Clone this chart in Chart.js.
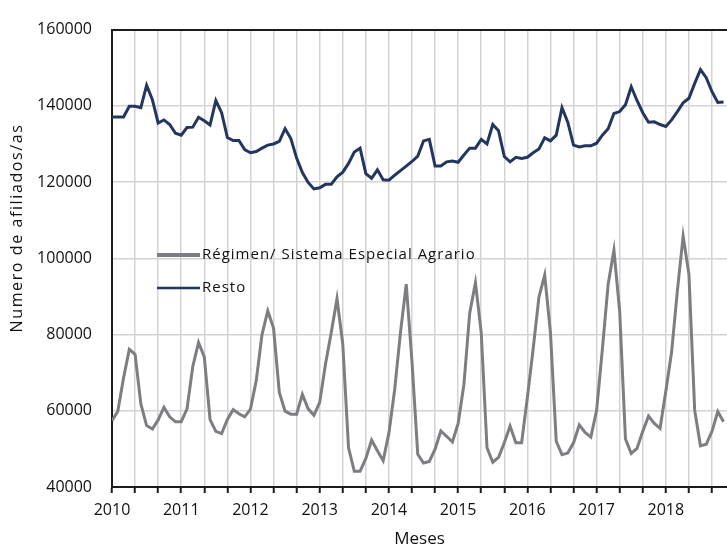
<!DOCTYPE html>
<html>
<head>
<meta charset="utf-8">
<script src="https://cdn.jsdelivr.net/npm/chart.js@4.4.1/dist/chart.umd.min.js"></script>
<style>
  html, body { margin: 0; padding: 0; background: #ffffff; }
  #wrap { width: 727px; height: 549px; position: relative; }
</style>
</head>
<body>
<div id="wrap"><canvas id="c" width="727" height="549"></canvas></div>
<script>
// Monthly series, Jan 2010 .. Nov 2018
const startYear = 2010;
const seriesNames = ['Régimen/ Sistema Especial Agrario', 'Resto'];
const agrario = [
  57400, 59800, 68600, 76100, 74800, 61800, 56100, 55200, 57600, 60900, 58400, 57100,
  57100, 60500, 71600, 77900, 74100, 57700, 54600, 54000, 57700, 60300, 59200, 58400,
  60400, 67900, 80000, 86200, 81700, 64800, 59900, 59100, 59100, 64300, 60500, 58800,
  62200, 72200, 80500, 89400, 77500, 50300, 44100, 44100, 47500, 52300, 49500, 46900,
  54200, 65600, 80500, 93200, 72800, 48600, 46300, 46700, 49900, 54700, 53300, 51800,
  56700, 66900, 85600, 93600, 80500, 50300, 46500, 47800, 51600, 56000, 51600, 51600,
  63500, 76200, 89800, 95600, 80500, 52000, 48500, 48900, 51600, 56300, 54300, 53100,
  60100, 76200, 93200, 102100, 86000, 52600, 48800, 50100, 54600, 58600, 56700, 55400,
  65200, 75400, 91500, 105800, 95800, 60100, 50800, 51200, 54600, 59800, 57100
];
const resto = [
  137100, 137100, 137100, 139900, 139900, 139500, 145400, 141600, 135500, 136300, 135100, 132800,
  132300, 134300, 134400, 137000, 136100, 135000, 141400, 138200, 131700, 130900, 130900, 128500,
  127700, 128000, 128900, 129700, 130000, 130700, 134000, 131400, 126300, 122500, 119900, 118200,
  118500, 119400, 119400, 121400, 122600, 124900, 127900, 128900, 122200, 121000, 123200, 120600,
  120500, 121800, 123000, 124200, 125400, 126800, 130800, 131200, 124200, 124200, 125300, 125500,
  125200, 127100, 128900, 128900, 131200, 130000, 135100, 133500, 126700, 125300, 126500, 126200,
  126500, 127700, 128700, 131600, 130800, 132300, 139500, 135700, 129700, 129200, 129500, 129500,
  130200, 132300, 134000, 138000, 138500, 140300, 145000, 141400, 138200, 135700, 135800, 135100,
  134600, 136300, 138500, 140800, 142000, 145900, 149500, 147400, 143700, 140900, 141000
];
const yMin = 40000, yMax = 160000, yStep = 20000;
const xTitle = 'Meses';
const yTitle = 'Numero de afiliados/as';

const FONT = "'Open Sans', 'Noto Sans', sans-serif";
const colAgr = '#7d7d82';
const colResto = '#24365f';
const axisCol = '#1c1c1c';
const gridCol = '#d3d3d3';
const textCol = '#111111';

const extras = {
  id: 'extras',
  afterDraw(chart) {
    const ctx = chart.ctx;
    ctx.save();
    const items = [
      { name: seriesNames[0], color: colAgr, w: 4, y: 255 },
      { name: seriesNames[1], color: colResto, w: 2.5, y: 288 }
    ];
    ctx.letterSpacing = '1px';
    ctx.font = '15px ' + FONT;
    ctx.textBaseline = 'middle';
    ctx.textAlign = 'left';
    items.forEach(it => {
      ctx.strokeStyle = it.color;
      ctx.lineWidth = it.w;
      ctx.beginPath();
      ctx.moveTo(157, it.y);
      ctx.lineTo(200, it.y);
      ctx.stroke();
      ctx.fillStyle = textCol;
      ctx.fillText(it.name, 202, it.y);
    });
    ctx.letterSpacing = '1.6px';
    ctx.translate(17, 228);
    ctx.rotate(-Math.PI / 2);
    ctx.textAlign = 'center';
    ctx.font = '16px ' + FONT;
    ctx.fillText(yTitle, 0, 0);
    ctx.restore();
  }
};

new Chart(document.getElementById('c'), {
  type: 'line',
  data: {
    datasets: [
      {
        label: seriesNames[0],
        data: agrario.map((v, i) => ({ x: i, y: v })),
        borderColor: colAgr,
        borderWidth: 3,
        pointRadius: 0,
        tension: 0,
        fill: false
      },
      {
        label: seriesNames[1],
        data: resto.map((v, i) => ({ x: i, y: v })),
        borderColor: colResto,
        borderWidth: 3,
        pointRadius: 0,
        tension: 0,
        fill: false
      }
    ]
  },
  options: {
    responsive: false,
    animation: false,
    devicePixelRatio: 1,
    layout: { padding: { top: 18, right: 0, left: 0, bottom: 0 } },
    plugins: {
      legend: { display: false },
      tooltip: { enabled: false }
    },
    scales: {
      x: {
        type: 'linear',
        min: 0,
        max: 106.6,
        afterFit: (s) => { s.height = 62; },
        ticks: {
          stepSize: 4,
          includeBounds: false,
          autoSkip: false,
          maxRotation: 0,
          padding: 8,
          color: textCol,
          font: { family: FONT, size: 16 },
          callback: (v) => (v % 12 === 0 ? String(startYear + v / 12) : '')
        },
        grid: {
          color: gridCol,
          lineWidth: 1.5,
          tickLength: 6,
          tickColor: axisCol,
          tickWidth: 2
        },
        border: { display: true, color: axisCol, width: 2 },
        title: {
          display: true,
          text: xTitle,
          color: textCol,
          font: { family: FONT, size: 17 },
          padding: 0
        }
      },
      y: {
        type: 'linear',
        min: yMin,
        max: yMax,
        afterFit: (s) => { s.width = 112; },
        ticks: {
          stepSize: yStep,
          padding: 20,
          color: textCol,
          font: { family: FONT, size: 16 },
          callback: (v) => String(v)
        },
        grid: {
          color: (c) => (c.tick && c.tick.value === yMax ? axisCol : gridCol),
          lineWidth: (c) => (c.tick && c.tick.value === yMax ? 2 : 1.5),
          drawTicks: false
        },
        border: { display: true, color: axisCol, width: 2 }
      }
    }
  },
  plugins: [extras]
});
</script>
</body>
</html>
